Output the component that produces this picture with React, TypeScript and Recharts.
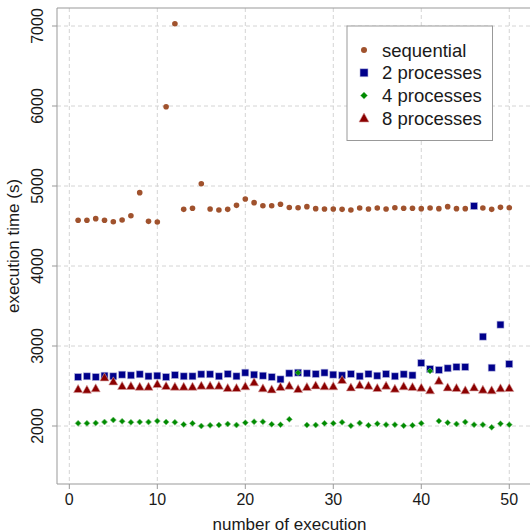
import React from "react";
import {
  ScatterChart,
  Scatter,
  XAxis,
  YAxis,
  CartesianGrid,
  ReferenceLine,
  Customized,
} from "recharts";

// run number (x) for every series
const runs = [
  1, 2, 3, 4, 5, 6, 7, 8, 9, 10, 11, 12, 13, 14, 15, 16, 17, 18, 19, 20, 21,
  22, 23, 24, 25, 26, 27, 28, 29, 30, 31, 32, 33, 34, 35, 36, 37, 38, 39, 40,
  41, 42, 43, 44, 45, 46, 47, 48, 49, 50,
];

// execution times in seconds
const sequential = [
  4571, 4571, 4592, 4571, 4554, 4575, 4629, 4917, 4558, 4550,
  5991, 7029, 4708, 4721, 5029, 4712, 4700, 4708, 4758, 4837,
  4792, 4754, 4754, 4771, 4731, 4729, 4742, 4717, 4712, 4712,
  4708, 4700, 4725, 4712, 4725, 4712, 4729, 4721, 4721, 4717,
  4725, 4717, 4742, 4717, 4717, 4740, 4725, 4708, 4733, 4729,
];
const procs2 = [
  2612, 2621, 2612, 2629, 2621, 2642, 2633, 2646, 2621, 2629,
  2612, 2637, 2621, 2621, 2646, 2646, 2621, 2650, 2621, 2667,
  2642, 2629, 2612, 2583, 2658, 2667, 2658, 2650, 2667, 2642,
  2633, 2650, 2621, 2650, 2629, 2650, 2621, 2646, 2633, 2788,
  2712, 2700, 2721, 2738, 2738, 4750, 3117, 2729, 3267, 2775,
];
const procs4 = [
  2033, 2033, 2037, 2050, 2075, 2058, 2046, 2050, 2050, 2062,
  2050, 2046, 2019, 2033, 2000, 2008, 2012, 2025, 2012, 2042,
  2054, 2054, 2021, 2017, 2083, 2667, 2012, 2012, 2033, 2033,
  2046, 2004, 2037, 2008, 2029, 2017, 2017, 2004, 2008, 2033,
  2688, 2062, 2042, 2025, 2050, 2017, 2017, 1983, 2029, 2017,
];
const procs8 = [
  2458, 2450, 2467, 2604, 2554, 2496, 2496, 2487, 2487, 2521,
  2496, 2487, 2487, 2487, 2500, 2500, 2500, 2471, 2471, 2492,
  2542, 2467, 2454, 2483, 2500, 2458, 2483, 2504, 2492, 2492,
  2571, 2479, 2508, 2500, 2471, 2500, 2462, 2492, 2483, 2475,
  2442, 2562, 2479, 2471, 2442, 2479, 2450, 2442, 2467, 2471,
];

const seriesNames = ["sequential", "2 processes", "4 processes", "8 processes"];
const xTicks = [0, 10, 20, 30, 40, 50];
const yTicks = [2000, 3000, 4000, 5000, 6000, 7000];

const FONT = "'Liberation Sans', Arial, Helvetica, sans-serif";
const SIENNA = "#A0522D";
const NAVY = "#00008B";
const GREEN = "#008B00";
const DARKRED = "#8B0000";
const AXIS = "#999999";

const toPoints = (values: number[]) =>
  runs.map((run, i) => ({ run, time: values[i] }));

const Dot = ({ cx, cy, r = 2.8 }: any) => (
  <circle cx={cx} cy={cy} r={r} fill={SIENNA} />
);
const Square = ({ cx, cy, s = 7 }: any) => (
  <rect
    x={cx - s / 2}
    y={cy - s / 2}
    width={s}
    height={s}
    fill={NAVY}
    stroke="#b8b8e0"
    strokeWidth={0.6}
  />
);
const Diamond = ({ cx, cy, s = 3 }: any) => (
  <path
    d={`M${cx},${cy - s}L${cx + s},${cy}L${cx},${cy + s}L${cx - s},${cy}Z`}
    fill={GREEN}
    stroke="#7fc47f"
    strokeWidth={0.6}
  />
);
const Triangle = ({ cx, cy, w = 9, h = 8 }: any) => (
  <path
    d={`M${cx},${cy - h * 0.6}L${cx + w / 2},${cy + h * 0.4}L${cx - w / 2},${cy + h * 0.4}Z`}
    fill={DARKRED}
    stroke="#d49a9a"
    strokeWidth={0.6}
  />
);

const XTick = ({ x, y, payload }: any) => (
  <text
    x={x}
    y={y + 8}
    textAnchor="middle"
    dominantBaseline="central"
    fontFamily={FONT}
    fontSize={16}
    fill="#1a1a1a"
  >
    {payload.value}
  </text>
);

const YTick = ({ x, y, payload }: any) => (
  <text
    x={x - 12.5}
    y={y}
    transform={`rotate(-90 ${x - 12.5} ${y})`}
    textAnchor="middle"
    dominantBaseline="central"
    fontFamily={FONT}
    fontSize={16}
    fill="#1a1a1a"
  >
    {payload.value}
  </text>
);

const XLabel = ({ viewBox }: any) => (
  <text
    x={viewBox.x + 232.5}
    y={viewBox.y + 40}
    textAnchor="middle"
    dominantBaseline="central"
    fontFamily={FONT}
    fontSize={17}
    fill="#1a1a1a"
  >
    number of execution
  </text>
);

const YLabel = ({ viewBox }: any) => {
  const cx = 13;
  const cy = viewBox.y + viewBox.height / 2;
  return (
    <text
      x={cx}
      y={cy}
      transform={`rotate(-90 ${cx} ${cy})`}
      textAnchor="middle"
      dominantBaseline="central"
      fontFamily={FONT}
      fontSize={17}
      fill="#1a1a1a"
    >
      execution time (s)
    </text>
  );
};

const legendMarkers = [
  (cx: number, cy: number) => <Dot cx={cx} cy={cy} r={3} />,
  (cx: number, cy: number) => <Square cx={cx} cy={cy} s={8} />,
  (cx: number, cy: number) => <Diamond cx={cx} cy={cy} s={3.5} />,
  (cx: number, cy: number) => <Triangle cx={cx} cy={cy} w={10} h={9} />,
];

const LegendBox = () => {
  const left = 347;
  const top = 26;
  return (
    <g>
      <rect
        x={left}
        y={top}
        width={145.5}
        height={114.5}
        fill="#ffffff"
        stroke={AXIS}
        strokeWidth={1}
      />
      {seriesNames.map((name, i) => {
        const cy = 50 + i * 22.8;
        return (
          <g key={name}>
            {legendMarkers[i](364, cy)}
            <text
              x={382}
              y={cy}
              dominantBaseline="central"
              fontFamily={FONT}
              fontSize={18.5}
              fill="#1a1a1a"
            >
              {name}
            </text>
          </g>
        );
      })}
    </g>
  );
};

export default function App() {
  return (
    <div style={{ position: "absolute", left: 0, top: 0, background: "#fff" }}>
      <ScatterChart
        width={531}
        height={532}
        margin={{ top: 8, right: 0, bottom: 0, left: 0 }}
      >
        <CartesianGrid
          stroke="#d4d4d4"
          strokeDasharray="4 3"
          horizontalValues={yTicks}
          verticalValues={xTicks}
        />
        <XAxis
          type="number"
          dataKey="run"
          domain={[-1.4, 52.47]}
          allowDataOverflow
          ticks={xTicks}
          height={48}
          tickSize={5}
          axisLine={{ stroke: AXIS }}
          tickLine={{ stroke: AXIS }}
          tick={<XTick />}
          label={<XLabel />}
        />
        <YAxis
          type="number"
          dataKey="time"
          domain={[1275, 7225]}
          allowDataOverflow
          ticks={yTicks}
          width={57}
          tickSize={5}
          axisLine={{ stroke: AXIS }}
          tickLine={{ stroke: AXIS }}
          tick={<YTick />}
          label={<YLabel />}
        />
        <ReferenceLine y={7225} stroke={AXIS} />
        <Scatter
          name={seriesNames[0]}
          data={toPoints(sequential)}
          shape={<Dot />}
          isAnimationActive={false}
        />
        <Scatter
          name={seriesNames[1]}
          data={toPoints(procs2)}
          shape={<Square />}
          isAnimationActive={false}
        />
        <Scatter
          name={seriesNames[2]}
          data={toPoints(procs4)}
          shape={<Diamond />}
          isAnimationActive={false}
        />
        <Scatter
          name={seriesNames[3]}
          data={toPoints(procs8)}
          shape={<Triangle />}
          isAnimationActive={false}
        />
        <Customized component={LegendBox} />
      </ScatterChart>
    </div>
  );
}
